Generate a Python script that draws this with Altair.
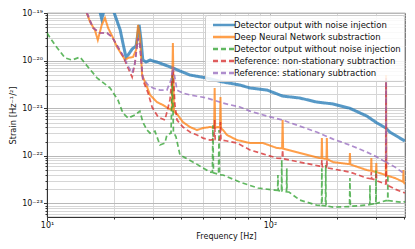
import altair as alt
import pandas as pd

names = [
    "Detector output with noise injection",
    "Deep Neural Network substraction",
    "Detector output without noise injection",
    "Reference: non-stationary subtraction",
    "Reference: stationary subtraction",
]
colors = ["#1f77b4", "#ff7f0e", "#2ca02c", "#d62728", "#9467bd"]
dashes = [[1, 0], [1, 0], [5, 3], [5, 3], [5, 3]]
widths = [3.0, 2.0, 1.7, 1.7, 1.7]

blue_f = [16.9, 17.6, 18.4, 19.8, 21.3, 21.9, 22.6, 23.1, 24.1, 25.1, 25.9, 26.4, 26.9, 27.8, 29.0, 29.9,
          31.1, 33.8, 36.7, 39.5, 43.8, 52.2, 61.6, 73.4, 81.4, 97.0, 114, 136, 162, 192, 228, 272, 302,
          331, 345, 383, 403]
blue_s = [1.6e-19, 7.5e-20, 1.6e-19, 1.16e-19, 4.4e-20, 2.34e-20, 1.19e-20, 1.31e-20, 1.75e-20, 2.03e-20,
          5.6e-20, 2.71e-20, 1.03e-20, 9.35e-21, 1.03e-20, 9.8e-21, 9.35e-21, 8.1e-21, 7.0e-21, 6.05e-21,
          4.98e-21, 4.3e-21, 3.55e-21, 3.07e-21, 2.66e-21, 2.41e-21, 1.8e-21, 1.64e-21, 1.35e-21, 1.23e-21,
          1.0e-21, 6.85e-22, 4.9e-22, 3.84e-22, 3.16e-22, 2.36e-22, 2.05e-22]

orange_f = [14.8, 15.6, 16.4, 16.9, 17.6, 18.2, 18.8, 19.8, 20.6, 21.7, 22.4, 23.1, 24.3, 25.1, 25.6, 26.1,
            26.7, 28.1, 29.0, 31.1, 33.1, 34.9, 36.3, 36.7, 37.1, 38.3, 40.7, 43.8, 47.1, 50.1, 53.8, 56.2,
            56.5, 56.8, 58.5, 59.7, 60.0, 60.3, 61.6, 64.2, 71.1, 81.4, 93.0, 107.5, 113.4, 114.0, 114.6,
            136, 167, 170.3, 171, 171.7, 179.3, 180, 180.7, 192, 227.5, 228.5, 229.5, 272, 284, 285, 286,
            299, 300, 301, 331, 331.9, 332.8, 364, 396, 397, 398, 403]
orange_s = [1.27e-19, 6.47e-20, 4.39e-20, 2.71e-20, 5.6e-20, 7.85e-20, 4.84e-20, 2.98e-20, 1.93e-20,
            1.31e-20, 1.03e-20, 1.14e-20, 1.19e-20, 1.67e-20, 5.6e-20, 3.45e-20, 4.98e-21, 2.8e-21, 1.9e-21,
            1.35e-21, 1.17e-21, 1.0e-21, 9.2e-22, 2.34e-20, 8.5e-22, 7.55e-22, 5.13e-22, 4.03e-22, 3.48e-22,
            3.84e-22, 4.03e-22, 3.9e-22, 2.66e-21, 3.9e-22, 4.03e-22, 3.9e-22, 1.72e-21, 3.8e-22, 3.48e-22,
            2.74e-22, 2.15e-22, 1.86e-22, 1.86e-22, 1.46e-22, 1.44e-22, 5.65e-22, 1.42e-22, 1.15e-22,
            9.0e-23, 8.9e-23, 2.36e-22, 8.9e-23, 8.6e-23, 2.36e-22, 8.5e-23, 7.4e-23, 6.7e-23, 1.15e-22,
            6.6e-23, 5.03e-23, 4.85e-23, 9.0e-23, 4.8e-23, 4.6e-23, 7.05e-23, 4.55e-23, 3.96e-23, 4.98e-21,
            3.9e-23, 3.42e-23, 2.85e-23, 5.03e-23, 2.8e-23, 2.55e-23]

green_f = [10.0, 10.86, 12.04, 12.95, 14.06, 15.27, 16.8, 19.2, 20.8, 21.9, 23.1, 24.8, 26.1, 26.9, 28.1,
           29.0, 30.5, 32.1, 33.8, 34.5, 36.0, 36.5, 36.9, 37.9, 39.5, 46.1, 53.8, 55.2, 55.5, 55.8, 58.8,
           59.1, 59.4, 61.6, 73.4, 88.4, 105, 108.3, 108.6, 108.9, 112.7, 113, 113.3, 118.7, 119, 119.3,
           121.7, 136, 162, 170.5, 171, 171.5, 177.5, 178, 178.5, 192, 227.5, 228.5, 229.5, 272, 280.5, 281,
           281.5, 298.5, 299, 299.5, 331, 337.5, 338, 338.5, 395, 403]
green_s = [3.8e-20, 2.13e-20, 1.14e-20, 1.03e-20, 1.19e-20, 7.35e-21, 4.3e-21, 2.66e-21, 1.49e-21, 7.9e-22,
           6.2e-22, 7.2e-22, 8.7e-22, 5.13e-22, 3.48e-22, 3.0e-22, 3.3e-22, 1.69e-22, 1.86e-22, 2.74e-22,
           3.0e-22, 4.98e-21, 3.2e-22, 2.5e-22, 1.04e-22, 7.05e-23, 4.57e-23, 4.5e-23, 4.4e-22, 4.4e-23,
           4.1e-23, 3.48e-22, 4.0e-23, 3.96e-23, 2.81e-23, 2.11e-23, 1.91e-23, 1.88e-23, 3.96e-23, 1.87e-23,
           1.83e-23, 8.2e-23, 1.82e-23, 1.76e-23, 5.5e-23, 1.75e-23, 1.74e-23, 1.18e-23, 9.25e-24, 9.1e-24,
           5.5e-23, 9.1e-24, 8.9e-24, 6.4e-23, 8.9e-24, 8.4e-24, 8.6e-24, 3.42e-23, 8.7e-24, 9.25e-24,
           9.5e-24, 2.44e-23, 9.5e-24, 1.0e-23, 5.0e-23, 1.0e-23, 1.15e-23, 1.15e-23, 3.96e-23, 1.15e-23,
           1.05e-23, 1.1e-23]

red_f = [14.8, 15.1, 16.1, 17.3, 18.6, 19.6, 20.8, 21.9, 23.1, 24.1, 24.8, 25.6, 26.1, 26.9, 28.4, 29.6,
         31.5, 33.8, 35.6, 36.7, 37.5, 38.3, 40.7, 43.8, 47.1, 50.1, 53.8, 56.2, 56.5, 56.8, 59.7, 60.0, 60.3,
         64.2, 71.1, 81.4, 93.0, 107.5, 113.4, 114, 114.6, 136, 167, 170.3, 171, 171.7, 179.3, 180, 180.7,
         192, 228, 272, 284, 285, 286, 299, 300, 301, 331, 331.9, 332.8, 364, 403]
red_s = [1.47e-19, 1e-19, 4.84e-20, 3.8e-20, 3.8e-20, 3.13e-20, 1.93e-20, 1.25e-20, 7.0e-21, 4.5e-21,
         8.9e-21, 2.98e-20, 2.13e-20, 3.91e-21, 2.09e-21, 1.06e-21, 6.54e-22, 5.65e-22, 1.49e-21, 6.34e-21,
         1.17e-21, 5.65e-22, 4.03e-22, 3.16e-22, 2.74e-22, 2.36e-22, 2.15e-22, 2.2e-22, 5.65e-22, 2.2e-22,
         2.15e-22, 5.13e-22, 2.15e-22, 2.05e-22, 1.86e-22, 1.33e-22, 1.1e-22, 9.0e-23, 8.8e-23, 1.33e-22,
         8.7e-23, 7.4e-23, 6.1e-23, 5.9e-23, 8.16e-23, 5.9e-23, 5.7e-23, 8.16e-23, 5.6e-23, 5.3e-23,
         4.57e-23, 3.42e-23, 3.3e-23, 4.57e-23, 3.3e-23, 3.1e-23, 4.57e-23, 3.0e-23, 2.55e-23, 4.3e-21,
         2.5e-23, 2.0e-23, 1.66e-23]

purple_f = [14.8, 15.1, 16.1, 17.3, 18.6, 19.6, 20.8, 21.9, 23.1, 24.1, 24.8, 25.6, 26.1, 26.9, 28.4, 29.9,
            32.1, 34.5, 36.0, 36.7, 37.5, 38.3, 40.7, 43.8, 52.2, 61.6, 73.4, 81.4, 97.0, 114, 136, 162, 192,
            228, 272, 302, 331, 331.9, 332.8, 364, 403]
purple_s = [1.47e-19, 1e-19, 4.84e-20, 3.8e-20, 3.8e-20, 3.13e-20, 1.93e-20, 1.31e-20, 7.7e-21, 5.5e-21,
            8.9e-21, 2.98e-20, 2.13e-20, 4.3e-21, 3.07e-21, 2.66e-21, 2.41e-21, 2.41e-21, 3.91e-21, 7.35e-21,
            4.3e-21, 2.41e-21, 2.09e-21, 1.9e-21, 1.64e-21, 1.28e-21, 1.06e-21, 8.7e-22, 6.85e-22, 5.65e-22,
            4.22e-22, 3.16e-22, 2.25e-22, 1.69e-22, 1.2e-22, 9.45e-23, 7.4e-23, 3.91e-21, 7.3e-23, 5.8e-23,
            4.15e-23]

series_data = [(blue_f, blue_s), (orange_f, orange_s), (green_f, green_s), (red_f, red_s), (purple_f, purple_s)]

x_ticks = [10, 20, 30, 40, 50, 60, 70, 80, 90, 100, 200, 300, 400]
y_ticks = [m * 10.0 ** e for e in range(-24, -19) for m in range(1, 10)] + [1e-19]
y_ticks = [v for v in y_ticks if v >= 5.2e-24]
y_labels = {-19: "10⁻¹⁹", -20: "10⁻²⁰", -21: "10⁻²¹", -22: "10⁻²²", -23: "10⁻²³"}

major_y = "abs(log(datum.value)/LN10 - round(log(datum.value)/LN10)) < 0.01"
lab = "''"
for e, t in y_labels.items():
    lab = f"round(log(datum.value)/LN10) == {e} ? '{t}' : ({lab})"
y_label_expr = f"{major_y} ? ({lab}) : ''"
major_x = "datum.value == 10 || datum.value == 100"

font = "DejaVu Sans"

legend = alt.Legend(
    orient="none", legendX=158, legendY=2, title=None,
    symbolType="M-2,0H2", symbolSize=121, symbolStrokeWidth=2.5, symbolOpacity=0.75,
    symbolOffset=9,
    labelFont=font, labelFontSize=8.5, labelColor="#111", labelOffset=3,
    fillColor="rgba(255,255,255,0.85)", strokeColor="#cccccc", cornerRadius=2, padding=3,
    rowPadding=-0.5, labelLimit=300,
)

x_enc = alt.X(
    "f:Q",
    scale=alt.Scale(type="log", domain=[10, 403.5], nice=False),
    axis=alt.Axis(
        values=x_ticks, labelExpr="datum.value == 10 ? '10¹' : (datum.value == 100 ? '10²' : '')",
        title="Frequency [Hz]", titleFont=font, titleFontSize=8, titleFontWeight="normal",
        titleY=19, titleBaseline="middle", titleColor="#111",
        labelFont=font, labelFontSize=8, labelColor="#111", labelPadding=1,
        gridColor={"condition": {"test": major_x, "value": "#b8b8b8"}, "value": "#d6d6d6"},
        tickSize={"condition": {"test": major_x, "value": 3.5}, "value": 2},
        tickColor="#333", domainColor="#333", labelFlush=False,
    ),
)
y_enc = alt.Y(
    "s:Q",
    scale=alt.Scale(type="log", domain=[5.2e-24, 1e-19], nice=False),
    axis=alt.Axis(
        values=y_ticks, labelExpr=y_label_expr,
        title="Strain [Hz⁻¹/²]", titleFont=font, titleFontSize=8.3, titleFontWeight="normal",
        titleX=-34, titleY=102, titleBaseline="middle", titleColor="#111",
        labelFont=font, labelFontSize=8, labelColor="#111", labelPadding=1,
        gridColor={"condition": {"test": major_y, "value": "#b8b8b8"}, "value": "#d6d6d6"},
        tickSize={"condition": {"test": major_y, "value": 3.5}, "value": 2},
        tickColor="#333", domainColor="#333",
    ),
)

layers = []
for name, (fs, ss), w in zip(names, series_data, widths):
    assert len(fs) == len(ss), name
    df = pd.DataFrame({"f": fs, "s": ss, "series": name, "order": list(range(len(fs)))})
    layers.append(
        alt.Chart(df).mark_line(clip=True, strokeWidth=w, opacity=0.75).encode(
            x=x_enc,
            y=y_enc,
            color=alt.Color("series:N", scale=alt.Scale(domain=names, range=colors), legend=legend),
            strokeDash=alt.StrokeDash("series:N", scale=alt.Scale(domain=names, range=dashes), legend=legend),
            order=alt.Order("order:Q"),
        )
    )

chart = alt.layer(*layers).properties(
    width=358, height=204,
    autosize=alt.AutoSizeParams(type="none"),
    padding={"left": 39, "top": 5, "right": 2, "bottom": 28},
).configure_view(stroke="#333", strokeWidth=0.8)

chart.save("out.html", embed_options={"renderer": "svg", "actions": False})
